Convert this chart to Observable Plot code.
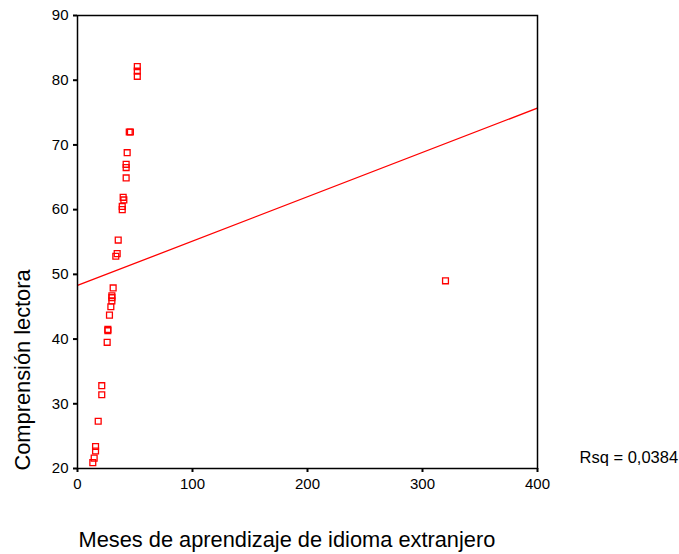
<!DOCTYPE html>
<html>
<head>
<meta charset="utf-8">
<script src="https://cdn.jsdelivr.net/npm/d3@7"></script>
<script src="https://cdn.jsdelivr.net/npm/@observablehq/plot@0.6"></script>
<style>
  html, body { margin: 0; padding: 0; background: #fff; }
  svg { font-family: "Liberation Sans", Arial, sans-serif; }
</style>
</head>
<body>
<div id="chart"></div>
<script>
// Months of foreign-language learning (x) and reading comprehension (y)
const meses = [52, 52, 52, 46, 45, 43.2, 42.3, 42.3, 42.3, 39.7, 40.3, 38.9, 38.9,
  35.4, 34.5, 33.3, 31, 29.9, 29.9, 29.9, 29, 27.8, 26.4, 26.4, 25.8,
  21.1, 21.1, 18, 15.7, 15.7, 14.5, 13.3, 320];
const comprension = [82.1, 81.4, 80.6, 72, 72, 68.8, 67.0, 66.5, 64.9, 61.9, 61.5, 60.5, 60.0,
  55.3, 53.2, 52.8, 47.9, 46.7, 46.4, 45.9, 45.0, 43.7, 41.5, 41.3, 39.5,
  32.8, 31.4, 27.3, 23.4, 22.7, 21.6, 20.9, 49.0];
const xTicks = [0, 100, 200, 300, 400];
const yTicks = [20, 30, 40, 50, 60, 70, 80, 90];
const xDomain = [0, 400];
const yDomain = [20, 90];
const rsqLabel = "Rsq = 0,0384";
const xLabel = "Meses de aprendizaje de idioma extranjero";
const yLabel = "Comprensión lectora";

const data = meses.map((m, i) => ({x: m, y: comprension[i]}));

// least-squares fit across the full x domain
const mx = d3.mean(meses), my = d3.mean(comprension);
const sxy = d3.sum(data, d => (d.x - mx) * (d.y - my));
const sxx = d3.sum(data, d => (d.x - mx) ** 2);
const slope = sxy / sxx, intercept = my - slope * mx;
const fit = xDomain.map(x => ({x, y: intercept + slope * x}));

const red = "#ff0000";

const chart = Plot.plot({
  width: 679,
  height: 554,
  marginLeft: 77,
  marginRight: 142,
  marginTop: 15,
  marginBottom: 86,
  style: {fontFamily: "Liberation Sans, Arial, sans-serif", background: "#fff", overflow: "visible"},
  x: {domain: xDomain},
  y: {domain: yDomain},
  marks: [
    Plot.axisX({ticks: xTicks, tickSize: 4, tickPadding: 6, fontSize: 15, label: null, strokeWidth: 2, color: "#000"}),
    Plot.axisY({ticks: yTicks, tickSize: 4, tickPadding: 5, fontSize: 15, label: null, strokeWidth: 2, color: "#000"}),
    Plot.line(fit, {x: "x", y: "y", stroke: red, strokeWidth: 1.3, clip: true}),
    Plot.dot(data, {x: "x", y: "y", symbol: "square", r: 3.3, stroke: red, strokeWidth: 1.3, fill: "none"}),
    Plot.frame({stroke: "#000", strokeWidth: 1.5}),
    Plot.text([rsqLabel], {frameAnchor: "bottom-right", dx: 42, dy: -6, textAnchor: "start", fontSize: 16.5, fill: "#000"}),
    Plot.text([xLabel], {frameAnchor: "bottom-left", dx: 1, dy: 78, textAnchor: "start", fontSize: 21.8, fill: "#000"}),
    Plot.text([yLabel], {frameAnchor: "bottom-left", dx: -48, dy: 2, rotate: -90, textAnchor: "start", fontSize: 21.8, fill: "#000"})
  ]
});
document.getElementById("chart").appendChild(chart);
</script>
</body>
</html>
